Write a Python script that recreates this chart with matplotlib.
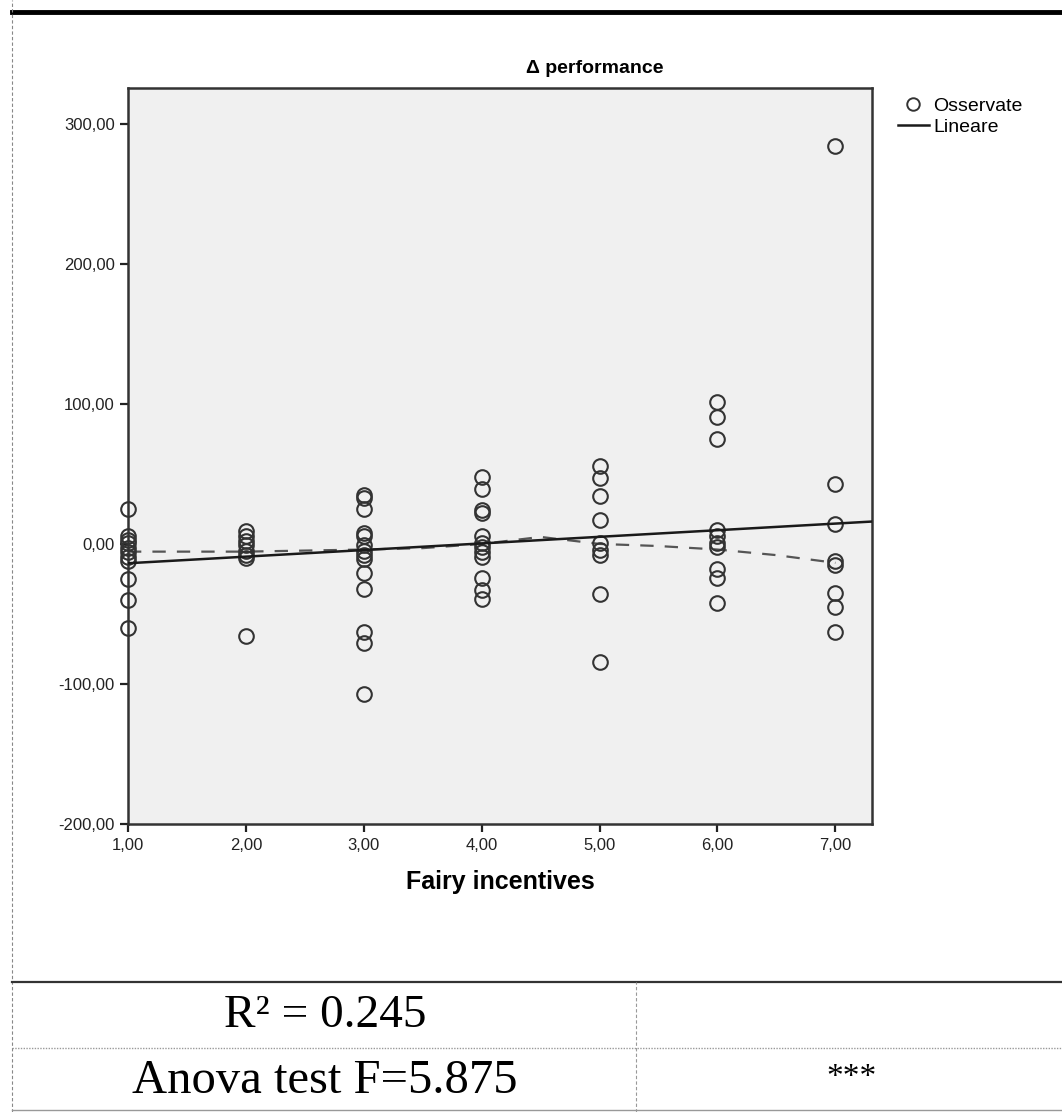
import matplotlib
matplotlib.use("Agg")
import matplotlib.pyplot as plt
from matplotlib.lines import Line2D

obs_x1 = [25, 6, 3, 1, -3, -6, -9, -12, -25, -40, -60]
obs_x2 = [9, 6, 2, -1, -5, -8, -10, -66]
obs_x3 = [35, 33, 25, 8, 6, -1, -5, -8, -11, -21, -32, -63, -71, -107]
obs_x4 = [48, 39, 24, 22, 6, 1, -2, -6, -9, -24, -33, -39]
obs_x5 = [56, 47, 34, 17, 1, -4, -8, -36, -84]
obs_x6 = [101, 91, 75, 10, 6, 1, -2, -18, -24, -42]
obs_x7 = [284, 43, 14, -12, -15, -35, -45, -63]
groups = [1, 2, 3, 4, 5, 6, 7]

# linear fit (intercept at x=1, slope)
fit_start = -13.8
fit_slope = 4.72
fit_x = [1.0, 7.31]

# dashed smoother
smooth_x = [1, 2, 3, 3.5, 4, 4.5, 5, 5.5, 6, 6.5, 7]
smooth_y = [-5.5, -5.5, -4, -3, 0, 5, 0, -1.5, -4, -8, -13.5]

yticks = [-200, -100, 0, 100, 200, 300]
xticks = [1, 2, 3, 4, 5, 6, 7]

fig = plt.figure(figsize=(10.62, 11.12), dpi=100)
ax = fig.add_axes([0.1205, 0.259, 0.7005, 0.662])
ax.set_facecolor("#f0f0f0")

all_obs = [obs_x1, obs_x2, obs_x3, obs_x4, obs_x5, obs_x6, obs_x7]
xs, ys = [], []
for g, vals in zip(groups, all_obs):
    xs += [g] * len(vals)
    ys += vals
ax.plot(xs, ys, "o", mfc="none", mec="#333333", ms=10.5, mew=1.5,
        clip_on=False, zorder=3)

ax.plot(smooth_x, smooth_y, color="#555555", lw=1.6, dashes=(6, 5), zorder=2)
ax.plot(fit_x, [fit_start + fit_slope * (x - 1) for x in fit_x],
        color="#1a1a1a", lw=1.8, zorder=4)

ax.set_xlim(1, 7.31)
ax.set_ylim(-200, 325.7)
ax.set_xticks(xticks)
ax.set_xticklabels(["%d,00" % t for t in xticks])
ax.set_yticks(yticks)
ax.set_yticklabels(["%d,00" % t for t in yticks])
ax.tick_params(direction="out", length=6, width=1.6, color="#222222",
               labelsize=12, labelcolor="#222222")
ax.tick_params(axis="x", pad=4)
for s in ax.spines.values():
    s.set_linewidth(1.8)
    s.set_color("#333333")
for lab in ax.get_xticklabels() + ax.get_yticklabels():
    lab.set_family("Liberation Sans")

# title sits right of centre in the original
ax.text(0.628, 1.015, "Δ performance", transform=ax.transAxes, ha="center",
        va="bottom", fontsize=14, fontweight="bold", family="Liberation Sans")
ax.set_xlabel("Fairy incentives", fontsize=18, fontweight="bold",
              family="Liberation Sans", labelpad=12)

handles = [Line2D([], [], marker="o", ls="none", mfc="none", mec="#333333", ms=9, mew=1.4),
           Line2D([], [], color="#1a1a1a", lw=1.8)]
fig.legend(handles, ["Osservate", "Lineare"], loc="upper left",
           bbox_to_anchor=(0.829, 0.928), frameon=False, handlelength=1.6,
           handletextpad=0.2, labelspacing=0.15,
           prop={"family": "Liberation Sans", "size": 14})

# page frame and table lines
fig.add_artist(Line2D([0.011, 1.0], [0.989, 0.989], color="black", lw=3.5))
fig.add_artist(Line2D([0.011, 0.011], [0.0, 1.0], color="#888888", lw=0.8, ls=(0, (3, 2))))
fig.add_artist(Line2D([0.011, 1.0], [0.117, 0.117], color="#333333", lw=1.6))
fig.add_artist(Line2D([0.011, 1.0], [0.0575, 0.0575], color="#999999", lw=1.0, ls=(0, (1, 1))))
fig.add_artist(Line2D([0.599, 0.599], [0.0, 0.117], color="#999999", lw=0.8, ls=(0, (3, 2))))
fig.add_artist(Line2D([0.011, 1.0], [0.002, 0.002], color="#999999", lw=1.0))

fig.text(0.306, 0.087, "R² = 0.245", ha="center", va="center",
         fontsize=34, family="Liberation Serif")
fig.text(0.306, 0.028, "Anova test F=5.875", ha="center", va="center",
         fontsize=35, family="Liberation Serif")
fig.text(0.802, 0.031, "***", ha="center", va="center",
         fontsize=24, family="Liberation Serif")

fig.savefig("out.png", dpi=100, facecolor="white")
